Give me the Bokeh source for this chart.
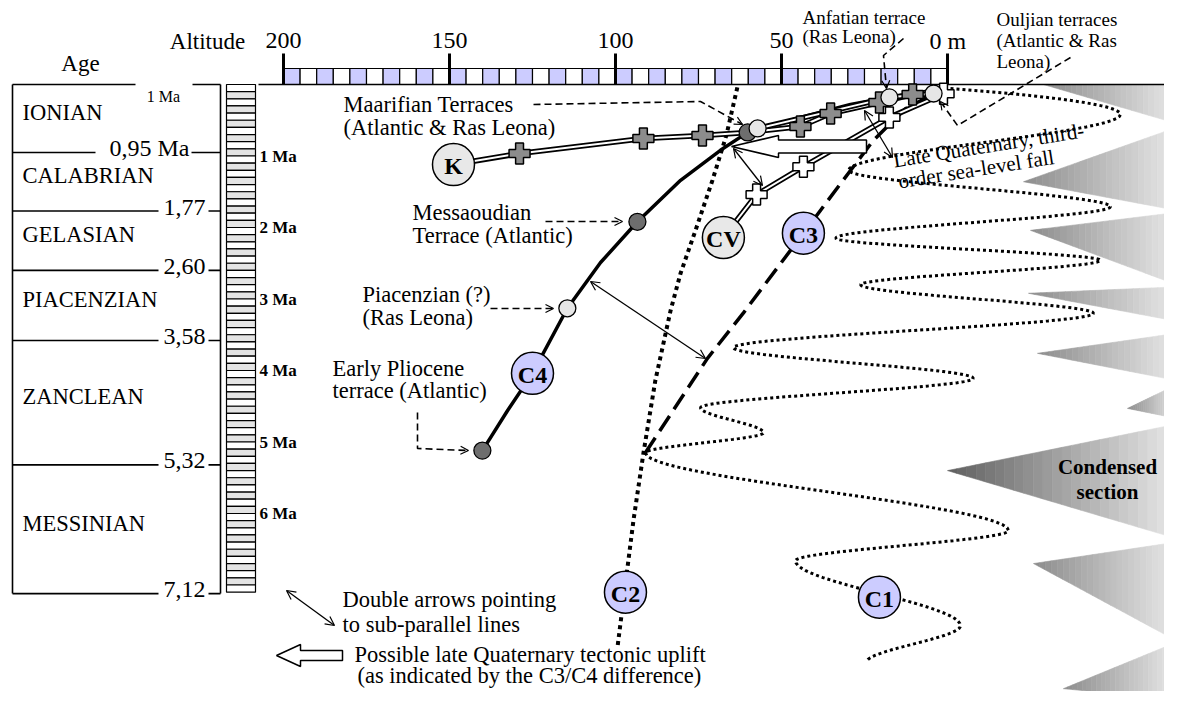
import numpy as np
from bokeh.plotting import figure
from bokeh.models import Range1d, ColumnDataSource, Arrow, OpenHead
from bokeh.core.properties import value
from bokeh.embed import file_html
from bokeh.resources import INLINE

# ---------------- data ----------------
stage_names = ["IONIAN", "CALABRIAN", "GELASIAN", "PIACENZIAN", "ZANCLEAN", "MESSINIAN"]
stage_bounds = [0.0, 0.95, 1.77, 2.60, 3.58, 5.32, 7.12]
stage_bound_labels = ["0,95 Ma", "1,77", "2,60", "3,58", "5,32", "7,12"]
age_ticks = [1, 2, 3, 4, 5, 6]
age_tick_labels = ["1 Ma", "2 Ma", "3 Ma", "4 Ma", "5 Ma", "6 Ma"]
alt_ticks = [200, 150, 100, 50, 0]
alt_tick_labels = ["200", "150", "100", "50", "0 m"]

# terraces (altitude m, age Ma)
terrace_names = ["Early Pliocene", "Piacenzian", "Messaoudian", "Maarifian A",
                 "Maarifian RL", "Anfatian", "Ouljian"]
terrace_alt = [140.1, 114.5, 93.4, 60.2, 57.2, 17.5, 4.2]
terrace_age = [5.12, 3.13, 1.92, 0.67, 0.615, 0.18, 0.126]
terrace_site = ["Atlantic", "Ras Leona", "Atlantic", "Atlantic",
                "Ras Leona", "Ras Leona", "Ras Leona"]

# curve C4 (solid)
c4_alt = [140.1, 132.5, 125.0, 114.5, 104.5, 93.4, 80.4, 68.4, 60.2, 44.3, 29.2, 14.2, 0.6]
c4_age = [5.12, 4.56, 4.04, 3.13, 2.49, 1.92, 1.34, 0.92, 0.67, 0.46, 0.28, 0.15, 0.07]
# curve C3 (dashed)
c3_alt = [91.0, 72.3, 61.4, 43.4, 32.2, 22.3, 12.7, 2.1]
c3_age = [5.15, 3.83, 3.19, 2.08, 1.385, 0.78, 0.34, 0.084]
# curve C2 (dotted)
c2_alt = [63.3, 66.6, 70.8, 75.9, 80.4, 83.4, 88.0, 91.6, 94.6, 96.7, 99.4]
c2_age = [0.04, 0.71, 1.34, 2.04, 2.64, 3.16, 4.14, 5.16, 6.10, 6.87, 7.87]
# curve C1 (sea-level wave, turning points)
c1_alt = [-0.9, -52.1, 29.8, -49.1, 33.7, -46.1, 26.2, -44.0, 64.5, -7.8,
          74.4, 55.4, 91.0, -18.4, 45.8, -3.9, 24.4]
c1_age = [0.056, 0.42, 1.20, 1.71, 2.15, 2.46, 2.80, 3.20, 3.68, 4.11,
          4.52, 4.87, 5.15, 6.24, 6.66, 7.57, 8.08]
# K profile (gray crosses)
k_alt = [148.8, 128.9, 91.6, 73.8, 60.2, 44.3, 35.2, 20.5, 10.5, 0.6]
k_age = [1.12, 0.965, 0.755, 0.713, 0.671, 0.587, 0.406, 0.252, 0.14, 0.07]
k_cross_alt = [128.9, 91.6, 73.8, 44.3, 35.2, 20.5, 10.5]
k_cross_age = [0.965, 0.755, 0.713, 0.587, 0.406, 0.252, 0.14]
# CV profile (white crosses)
cv_alt = [67.5, 57.5, 43.4, 17.5, 1.2]
cv_age = [2.14, 1.54, 1.15, 0.46, 0.13]
cv_cross_alt = [57.5, 43.4, 17.5, 1.2]
cv_cross_age = [1.54, 1.15, 0.46, 0.13]
# Ras Leona link
rl_alt = [57.2, 17.5, 4.2]
rl_age = [0.615, 0.18, 0.126]

# labelled circles
circle_labels = ["K", "CV", "C4", "C3", "C2", "C1"]
circle_alt = [148.8, 67.5, 125.0, 43.4, 97.0, 20.5]
circle_age = [1.12, 2.14, 4.04, 2.08, 7.10, 7.17]
circle_kind = ["profile", "profile", "curve", "curve", "curve", "curve"]

# condensed-section wedges
wedge_tip_alt = [-28.9, -22.9, -25.0, -24.4, -27.1, -54.2, 0.0, -25.9, -34.9]
wedge_tip_age = [0.0, 1.36, 2.04, 2.92, 3.76, 4.53, 5.40, 6.70, 8.45]
wedge_top_age = [0.0, 0.60, 1.79, 2.83, 3.48, 4.20, 4.75, 6.40, 7.80]
wedge_bot_age = [0.545, 1.76, 2.80, 3.31, 4.14, 4.67, 6.35, 7.78, 8.60]
condensed_index = 6

# ---------------- layout helpers (image pixels -> data) ----------------
X0, SX, Y0, SY = 947.0, 3.32, 84.0, 71.5
def X(px): return (X0 - px) / SX
def Y(py): return (py - Y0) / SY
def PX(a): return X0 - a * SX
def PY(t): return Y0 + t * SY

W, H = 1164, 691
p = figure(width=W, height=H, x_range=Range1d(X(0), X(W)),
           y_range=Range1d(Y(H), Y(0)), output_backend="svg",
           toolbar_location=None, min_border=0, title=None,
           x_axis_location=None, y_axis_location=None)
p.grid.visible = False
p.outline_line_color = None
p.background_fill_color = "white"
p.border_fill_color = "white"

FONT = value("Liberation Serif")

def txt(xs, ys, texts, size, align="left", baseline="middle", bold=False, angle=0.0):
    src = ColumnDataSource(dict(x=list(xs), y=list(ys), t=list(texts)))
    p.text(x="x", y="y", text="t", source=src, text_font=FONT,
           text_font_size=value(f"{size}px"), text_align=align,
           text_baseline=baseline, text_font_style="bold" if bold else "normal",
           angle=angle, text_color="black")

def hexgray(g):
    g = int(round(g))
    return "#%02x%02x%02x" % (g, g, g)

# ---------------- wedges (gradient) ----------------
xr = X(1176)
N = 24
for i in range(len(wedge_tip_alt)):
    tx, ty = wedge_tip_alt[i], wedge_tip_age[i]
    ya, yb = wedge_top_age[i], wedge_bot_age[i]
    g0 = 95 if i == condensed_index else 140
    g1 = 232
    xs_l, ys_l, cols = [], [], []
    for k in range(N):
        f0, f1 = k / N, (k + 1) / N
        x0 = tx + (xr - tx) * f0
        x1 = tx + (xr - tx) * f1
        t0 = ty + (ya - ty) * f0; t1 = ty + (ya - ty) * f1
        b0 = ty + (yb - ty) * f0; b1 = ty + (yb - ty) * f1
        xs_l.append([x0, x1, x1, x0]); ys_l.append([t0, t1, b1, b0])
        cols.append(hexgray(g0 + (g1 - g0) * (k + 0.5) / N))
    p.patches(xs_l, ys_l, fill_color=cols, line_color=cols, line_width=0.6)

# ---------------- stage column ----------------
xl, xrt = X(12), X(220)
for b, lab in zip(stage_bounds[1:], stage_bound_labels):
    if "Ma" in lab:
        g0, g1, lx = 95, 191, 189
    else:
        g0, g1, lx = 158, 208, 205
    p.segment([xl, X(g1)], [b, b], [X(g0), xrt], [b, b], line_color="black", line_width=1.6)
    txt([X(lx)], [Y(PY(b) - 4)], [lab], 24, align="right")
p.segment([xl, X(192)], [0, 0], [X(135), xrt], [0, 0], line_color="black", line_width=1.6)
p.segment([xl, xrt], [0, 0], [xl, xrt], [stage_bounds[-1]] * 2, line_color="black", line_width=1.6)
txt([X(163)], [Y(96)], ["1 Ma"], 16, align="center")
mids = [(a + b) / 2 for a, b in zip(stage_bounds[:-1], stage_bounds[1:])]
txt([X(22)] * 6, [Y(PY(m) - 6) for m in mids], stage_names, 22.5)

# hatched age column
cells = np.arange(71)
p.quad(left=X(226), right=X(255), top=cells * 0.1, bottom=cells * 0.1 + 0.1,
       fill_color=["#ffffff" if c % 2 == 0 else "#e4e4e4" for c in cells],
       line_color="black", line_width=1.2)
txt([X(259)] * 6, age_ticks, age_tick_labels, 17, bold=True)

txt([X(80)], [Y(63)], ["Age"], 23, align="center")
txt([X(207)], [Y(41)], ["Altitude"], 23, align="center")

# ---------------- altitude bar ----------------
alts = np.arange(200, 0, -5)
p.quad(left=alts, right=alts - 5, top=Y(68), bottom=0,
       fill_color=["#ccccff" if k % 2 == 0 else "#ffffff" for k in range(len(alts))],
       line_color="black", line_width=1.2)
p.segment(X(258), 0, X(1185), 0, line_color="black", line_width=1.6)
p.segment(alt_ticks, [Y(53)] * 5, alt_ticks, [0] * 5, line_color="black", line_width=3)
txt(alt_ticks[:4], [Y(40)] * 4, alt_tick_labels[:4], 24, align="center")
txt([X(929)], [Y(40)], [alt_tick_labels[4]], 24, align="left")

# ---------------- curves ----------------
def wave(alts_, ages_, n=28):
    px = [PX(a) for a in alts_]; py = [PY(t) for t in ages_]
    xs, ys = [px[0]], [py[0]]
    for i in range(len(px) - 1):
        t = np.linspace(0, 1, n)[1:]
        s = 3 * t ** 2 - 2 * t ** 3
        if i == 0:
            s = 1 - (1 - t) ** 2
        xs += list(px[i] + (px[i + 1] - px[i]) * s)
        ys += list(py[i] + (py[i + 1] - py[i]) * t)
    return [X(v) for v in xs], [Y(v) for v in ys]

wx, wy = wave(c1_alt, c1_age)
p.line(wx, wy, line_color="black", line_width=3, line_dash="3 3")
p.line(c2_alt, c2_age, line_color="black", line_width=4, line_dash="4 4")
p.line(c3_alt, c3_age, line_color="black", line_width=3.5, line_dash="18 8")
p.line(c4_alt, c4_age, line_color="black", line_width=3.5)

for la, lg in [(k_alt, k_age), (cv_alt, cv_age), (rl_alt, rl_age)]:
    p.line(la, lg, line_color="black", line_width=5.5)
    p.line(la, lg, line_color="white", line_width=2)

# white block arrows
def block_arrow(tip, base_x, head_h, body_end, body_h):
    tx_, ty_ = tip
    xs = [tx_, base_x, base_x, body_end, body_end, base_x, base_x]
    ys = [ty_, ty_ - head_h, ty_ - body_h, ty_ - body_h, ty_ + body_h, ty_ + body_h, ty_ + head_h]
    p.patch([X(v) for v in xs], [Y(v) for v in ys], fill_color="white",
            line_color="black", line_width=1.5)

block_arrow((731, 146), 778, 11, 866, 6.5)
block_arrow((276, 655), 300, 11, 342, 5)

# double arrows
for (x0, y0), (x1, y1) in [((590, 281), (705, 358)), ((733, 148), (762, 185)),
                           ((864, 110), (892, 157)), ((286, 590), (334, 625))]:
    p.add_layout(Arrow(start=OpenHead(size=9, line_width=1.2),
                       end=OpenHead(size=9, line_width=1.2),
                       x_start=X(x0), y_start=Y(y0), x_end=X(x1), y_end=Y(y1),
                       line_width=1.3))

# dashed leaders
leaders = [[(533, 104), (700, 101), (742, 124)],
           [(545, 221), (622, 221)],
           [(490, 308), (553, 308)],
           [(417, 412), (417, 448), (468, 450)],
           [(903, 38), (883, 55), (886, 88)],
           [(1070, 57), (957, 125), (940, 101)]]
for pts in leaders:
    p.line([X(a) for a, b in pts], [Y(b) for a, b in pts], line_color="black",
           line_width=1.6, line_dash="7 4")
    (xa, ya), (xb, yb) = pts[-2], pts[-1]
    p.add_layout(Arrow(end=OpenHead(size=8, line_width=1.2), x_start=X(xa), y_start=Y(ya),
                       x_end=X(xb), y_end=Y(yb), line_alpha=0))

# crosses
p.scatter(k_cross_alt, k_cross_age, marker="plus", size=21, fill_color="#8c8c8c",
          line_color="black", line_width=1.5)
p.scatter(cv_cross_alt, cv_cross_age, marker="plus", size=21, fill_color="white",
          line_color="black", line_width=1.5)

# terraces
p.scatter(terrace_alt, terrace_age, marker="circle", size=17,
          fill_color=["#6e6e6e" if s == "Atlantic" else "#e6e6e6" for s in terrace_site],
          line_color="black", line_width=1.3)

# labelled circles
p.scatter(circle_alt, circle_age, marker="circle", size=42,
          fill_color=["#e8e8e8" if k == "profile" else "#ccccff" for k in circle_kind],
          line_color="black", line_width=1.5)
txt(circle_alt, [a + 0.02 for a in circle_age], circle_labels, 24, align="center", bold=True)

# ---------------- annotations ----------------
ann = [("Maarifian Terraces", 343, 104), ("(Atlantic & Ras Leona)", 343, 127),
       ("Messaoudian", 412, 212), ("Terrace (Atlantic)", 412, 235),
       ("Piacenzian (?)", 362, 294), ("(Ras Leona)", 362, 317),
       ("Early Pliocene", 332, 368), ("terrace (Atlantic)", 332, 390),
       ("Double arrows pointing", 342, 599), ("to sub-parallel lines", 342, 624),
       ("Possible late Quaternary tectonic uplift", 354, 654),
       ("(as indicated by the C3/C4 difference)", 357, 675)]
txt([X(a) for _, a, _ in ann], [Y(b) for _, _, b in ann], [s for s, _, _ in ann], 22.5)

small = [("Anfatian terrace", 802, 17), ("(Ras Leona)", 802, 36),
         ("Ouljian terraces", 996, 19), ("(Atlantic & Ras", 996, 40), ("Leona)", 996, 61)]
txt([X(a) for _, a, _ in small], [Y(b) for _, _, b in small], [s for s, _, _ in small], 19)

ang = np.radians(9)
txt([X(893), X(898)], [Y(160), Y(181)], ["Late Quaternary, third-", "order sea-level fall"],
    21, baseline="alphabetic", angle=ang)
txt([X(1107), X(1107)], [Y(466), Y(491)], ["Condensed", "section"], 21, align="center", bold=True)

open("out.html", "w").write(file_html(p, INLINE))
